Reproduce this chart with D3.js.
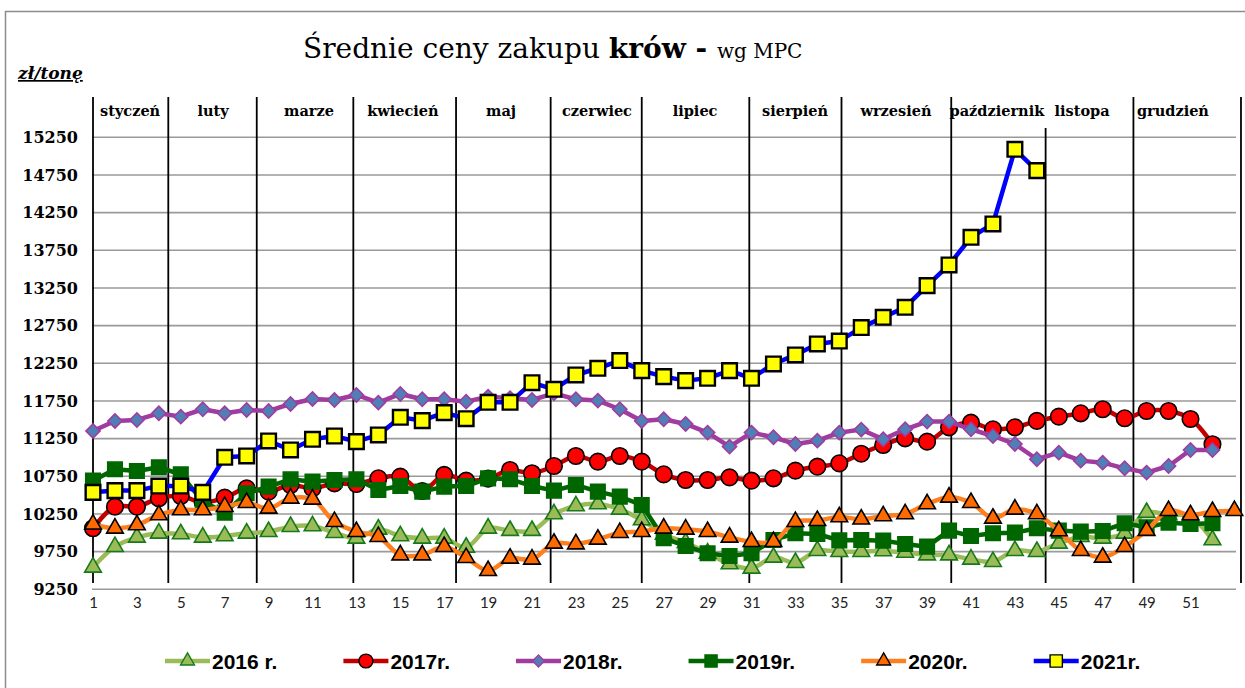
<!DOCTYPE html>
<html>
<head>
<meta charset="utf-8">
<script src="https://cdn.jsdelivr.net/npm/d3@7"></script>
<style>
	body { margin: 0; background: #fff; }
	svg { display: block; }
</style>
</head>
<body>
<div id="chart"></div>
<script>
// tygodnie 1..53
const weeks = [1, 2, 3, 4, 5, 6, 7, 8, 9, 10, 11, 12, 13, 14, 15, 16, 17, 18, 19, 20, 21, 22, 23, 24, 25, 26, 27,
	28, 29, 30, 31, 32, 33, 34, 35, 36, 37, 38, 39, 40, 41, 42, 43, 44, 45, 46, 47, 48, 49, 50, 51, 52, 53];
const xTicks = [1, 3, 5, 7, 9, 11, 13, 15, 17, 19, 21, 23, 25, 27, 29, 31, 33, 35, 37, 39, 41, 43, 45, 47, 49, 51];
const yTicks = [9250, 9750, 10250, 10750, 11250, 11750, 12250, 12750, 13250, 13750, 14250, 14750, 15250];

const months = ['styczeń', 'luty', 'marze', 'kwiecień', 'maj', 'czerwiec', 'lipiec', 'sierpień', 'wrzesień',
	'październik', 'listopa', 'grudzień'];
// granice miesięcy i środki etykiet (w tygodniach)
const monthBreaks = [1.0, 4.43, 8.46, 12.86, 17.54, 21.85, 26.0, 30.9, 35.1, 40.1, 44.4, 48.4, 53.3];
const monthCenters = [2.69, 6.47, 10.84, 15.12, 19.59, 23.96, 28.43, 32.98, 37.58, 42.18, 46.06, 50.2];

const y2016 = [9542, 9816, 9940, 9993, 9984, 9940, 9958, 9993, 10015, 10082, 10091, 10002, 9927, 10046, 9958, 9927,
	9927, 9807, 10060, 10029, 10029, 10250, 10356, 10383, 10312, 10170, 9980, 9869, 9728, 9586, 9528, 9674, 9604,
	9763, 9750, 9750, 9760, 9740, 9705, 9705, 9648, 9617, 9763, 9750, 9860, 9949, 9927, 9993, 10268, 10237, 10215, 9905];
const y2017 = [10060, 10347, 10347, 10458, 10489, 10400, 10467, 10590, 10546, 10635, 10590, 10657, 10648, 10723,
	10746, 10555, 10768, 10692, 10720, 10834, 10790, 10887, 11020, 10945, 11020, 10945, 10776, 10701, 10701, 10736,
	10692, 10723, 10825, 10878, 10922, 11050, 11166, 11254, 11210, 11400, 11462, 11374, 11400, 11485, 11542, 11586,
	11640, 11520, 11617, 11617, 11511, 11175];
const y2018 = [11352, 11485, 11498, 11586, 11542, 11640, 11586, 11631, 11617, 11710, 11777, 11763, 11830, 11728,
	11843, 11772, 11772, 11741, 11808, 11786, 11763, 11852, 11772, 11755, 11640, 11485, 11507, 11445, 11330, 11144,
	11330, 11268, 11179, 11223, 11330, 11370, 11241, 11374, 11476, 11476, 11374, 11285, 11179, 10976, 11064, 10958,
	10931, 10856, 10799, 10887, 11099, 11099];
const y2019 = [10692, 10843, 10821, 10870, 10776, 10414, 10268, 10524, 10613, 10710, 10679, 10701, 10710, 10568,
	10621, 10546, 10613, 10621, 10723, 10710, 10622, 10560, 10635, 10547, 10480, 10369, 9927, 9825, 9728, 9692,
	9728, 9905, 9993, 9984, 9900, 9905, 9896, 9851, 9816, 10029, 9958, 9993, 10002, 10060, 10029, 10015, 10024,
	10126, 10073, 10135, 10117, 10126];
const y2020 = [10113, 10060, 10104, 10237, 10303, 10303, 10347, 10400, 10325, 10458, 10445, 10148, 10015, 9949,
	9705, 9705, 9816, 9670, 9497, 9661, 9648, 9860, 9851, 9913, 10002, 10015, 10060, 10046, 10015, 9940, 9882, 9882,
	10148, 10161, 10210, 10180, 10223, 10250, 10383, 10471, 10400, 10192, 10312, 10250, 10024, 9763, 9674, 9816,
	10029, 10294, 10237, 10281, 10294];
const y2021 = [10537, 10560, 10560, 10621, 10621, 10537, 11002, 11020, 11219, 11100, 11241, 11285, 11210, 11299,
	11533, 11489, 11595, 11515, 11732, 11732, 11993, 11905, 12095, 12184, 12286, 12153, 12073, 12020, 12051, 12153,
	12051, 12241, 12361, 12507, 12545, 12724, 12861, 12993, 13281, 13556, 13923, 14100, 15091, 14808];

const series = [
	{ name: '2016 r.', values: y2016, line: '#9bbb59', fill: '#9bbb59', stroke: '#17791a', sym: 'tri', smooth: true },
	{ name: '2017r.', values: y2017, line: '#c00000', fill: '#ff0000', stroke: '#000', sym: 'circle', smooth: true },
	{ name: '2018r.', values: y2018, line: '#a03ca0', fill: '#4f7fb5', stroke: '#a03ca0', sym: 'diamond', smooth: false },
	{ name: '2019r.', values: y2019, line: '#006600', fill: '#006600', stroke: '#006600', sym: 'square', smooth: false },
	{ name: '2020r.', values: y2020, line: '#ff7f1e', fill: '#ff6a00', stroke: '#000', sym: 'tri', smooth: true },
	{ name: '2021r.', values: y2021, line: '#0000ff', fill: '#ffff00', stroke: '#000', sym: 'square2', smooth: false }
];

const W = 1245, H = 688;
const svg = d3.select('#chart').append('svg').attr('width', W).attr('height', H);
svg.append('rect').attr('width', W).attr('height', H).attr('fill', '#fff');
// ramka
svg.append('rect').attr('x', 5.5).attr('y', 11.5).attr('width', W + 20).attr('height', H + 20)
	.attr('fill', 'none').attr('stroke', '#8c8c8c').attr('stroke-width', 1.5);

const x = d3.scaleLinear().domain([1, 53]).range([93, 1234.4]);
const y = d3.scaleLinear().domain([9250, 15250]).range([589.3, 137.3]);

// tytuł
const title = svg.append('text').attr('x', 303).attr('y', 58)
	.attr('font-family', '"DejaVu Serif", serif').attr('font-size', 28).attr('fill', '#000');
title.append('tspan').text('Średnie ceny zakupu ');
title.append('tspan').attr('font-weight', 'bold').text('krów');
title.append('tspan').attr('font-weight', 'bold').text(' - ');
title.append('tspan').attr('font-size', 20).text('wg MPC');

svg.append('text').attr('x', 18).attr('y', 79)
	.attr('font-family', '"DejaVu Serif", serif').attr('font-size', 17).attr('font-weight', 'bold')
	.attr('font-style', 'italic').attr('text-decoration', 'underline').text('zł/tonę');

// siatka
svg.append('g').selectAll('line').data(yTicks).enter().append('line')
	.attr('x1', 92).attr('x2', 1236)
	.attr('y1', d => y(d)).attr('y2', d => y(d))
	.attr('stroke', '#9a9a9a').attr('stroke-width', 1.6);

// oś Y
const yAxis = svg.append('g').attr('transform', 'translate(78,0)')
	.call(d3.axisLeft(y).tickValues(yTicks).tickSize(0).tickPadding(0).tickFormat(d => d));
yAxis.select('.domain').remove();
yAxis.selectAll('text').attr('font-family', '"DejaVu Serif", serif').attr('font-size', 16)
	.attr('font-weight', 'bold').attr('fill', '#000');

// oś X
const xAxis = svg.append('g').attr('transform', 'translate(0,597)')
	.call(d3.axisBottom(x).tickValues(xTicks).tickSize(0).tickPadding(0).tickFormat(d => d));
xAxis.select('.domain').remove();
xAxis.selectAll('text').attr('font-family', 'Lato, "Open Sans", sans-serif').attr('font-size', 15)
	.attr('fill', '#222');

// separatory miesięcy
svg.append('g').selectAll('line').data(monthBreaks).enter().append('line')
	.attr('x1', d => x(d)).attr('x2', d => x(d))
	.attr('y1', (d, i) => (i === 10 ? 128 : 97)).attr('y2', 583)
	.attr('stroke', '#000').attr('stroke-width', 1.8);

svg.append('g').selectAll('text').data(months).enter().append('text')
	.attr('x', (d, i) => x(monthCenters[i])).attr('y', 116)
	.attr('text-anchor', 'middle')
	.attr('font-family', '"DejaVu Serif", serif').attr('font-size', 14.5).attr('font-weight', 'bold')
	.text(d => d);

const symbolPath = (sym, scale) => {
	if (sym === 'tri') return d3.symbol(d3.symbolTriangle, 120 * scale)();
	if (sym === 'circle') return d3.symbol(d3.symbolCircle, 215 * scale)();
	if (sym === 'diamond') return d3.symbol(d3.symbolSquare, 100 * scale)();
	if (sym === 'square') return d3.symbol(d3.symbolSquare, 210 * scale)();
	return d3.symbol(d3.symbolSquare, 215 * scale)();
};

// serie
series.forEach(s => {
	const pts = s.values.map((v, i) => [weeks[i], v]);
	const line = d3.line().x(d => x(d[0])).y(d => y(d[1]))
		.curve(s.smooth ? d3.curveCatmullRom.alpha(0.5) : d3.curveLinear);
	svg.append('path').datum(pts).attr('d', line)
		.attr('fill', 'none').attr('stroke', s.line).attr('stroke-width', 4.5)
		.attr('stroke-linejoin', 'round');
	svg.append('g').selectAll('path').data(pts).enter().append('path')
		.attr('d', symbolPath(s.sym, 1))
		.attr('transform', d => 'translate(' + x(d[0]) + ',' + y(d[1]) + ')' + (s.sym === 'diamond' ? ' rotate(45)' : ''))
		.attr('fill', s.fill).attr('stroke', s.stroke)
		.attr('stroke-width', s.sym === 'square2' ? 2.4 : 1.6);
});

// legenda
let lx = 165;
series.forEach(s => {
	const g = svg.append('g').attr('transform', 'translate(' + lx + ',661)');
	g.append('line').attr('x1', 0).attr('x2', 45).attr('stroke', s.line).attr('stroke-width', 4.5);
	g.append('path').attr('d', symbolPath(s.sym, 0.7))
		.attr('transform', 'translate(22.5,0)' + (s.sym === 'diamond' ? ' rotate(45)' : ''))
		.attr('fill', s.fill).attr('stroke', s.stroke).attr('stroke-width', 1.4);
	const t = g.append('text').attr('x', 47).attr('y', 8)
		.attr('font-family', '"Liberation Sans", Arial, sans-serif').attr('font-size', 21)
		.attr('font-weight', 'bold').text(s.name);
	lx += 47 + t.node().getComputedTextLength() + 66;
});
</script>
</body>
</html>
